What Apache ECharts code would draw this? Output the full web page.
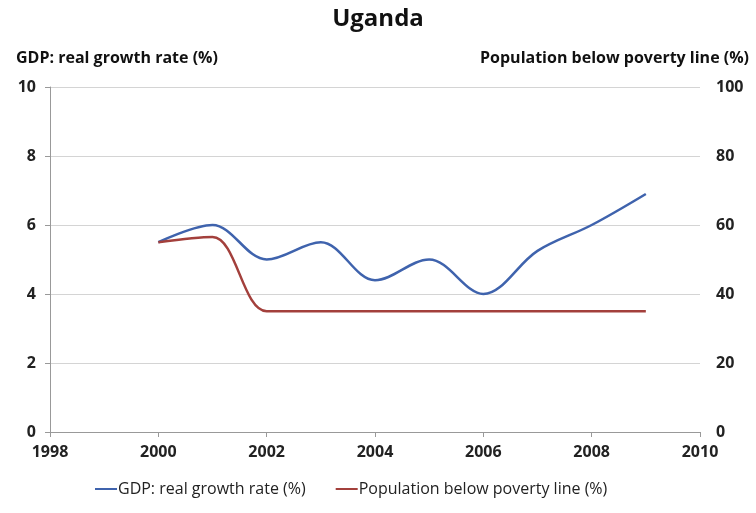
<!DOCTYPE html>
<html>
<head>
<meta charset="utf-8">
<script src="https://cdn.jsdelivr.net/npm/echarts@6/dist/echarts.min.js"></script>
<style>
  html, body { margin: 0; padding: 0; background: #fff; }
  #chart { width: 756px; height: 513px; }
</style>
</head>
<body>
<div id="chart"></div>
<script>
// Uganda: GDP growth vs. share of population below the poverty line
const years = [2000, 2001, 2002, 2003, 2004, 2005, 2006, 2007, 2008, 2009];
const gdpGrowth = [5.5, 6.0, 5.0, 5.5, 4.4, 5.0, 4.0, 5.25, 6.0, 6.9];
const povertyShare = [55, 56.5, 35, 35, 35, 35, 35, 35, 35, 35];

const gdpName = 'GDP: real growth rate (%)';
const povName = 'Population below poverty line (%)';
const font = '"Open Sans", "Liberation Sans", sans-serif';

const chart = echarts.init(document.getElementById('chart'));
chart.setOption({
  animation: false,
  textStyle: { fontFamily: font },
  title: [
    { text: 'Uganda', left: 'center', top: 2,
      textStyle: { fontFamily: font, fontSize: 24, fontWeight: 'bold', color: '#111' } },
    { text: gdpName, left: 11, top: 45,
      textStyle: { fontFamily: font, fontSize: 16, fontWeight: 'bold', color: '#111' } },
    { text: povName, right: 2, top: 45,
      textStyle: { fontFamily: font, fontSize: 16, fontWeight: 'bold', color: '#111' } }
  ],
  legend: {
    bottom: 11, left: 90, itemGap: 30,
    itemWidth: 22, itemHeight: 2,
    icon: 'rect',
    textStyle: { fontFamily: font, fontSize: 16, color: '#222', padding: [0, 0, 0, -4] },
    data: [gdpName, povName]
  },
  grid: { left: 50, right: 56, top: 87, bottom: 81 },
  xAxis: {
    type: 'value', min: 1998, max: 2010, interval: 2,
    axisLine: { show: true, lineStyle: { color: '#999' } },
    axisTick: { show: true, length: 5, lineStyle: { color: '#999' } },
    splitLine: { show: false },
    axisLabel: { margin: 12, fontSize: 16, fontWeight: 'bold', color: '#222', fontFamily: font,
      formatter: v => String(v) }
  },
  yAxis: [
    {
      type: 'value', min: 0, max: 10, interval: 2,
      axisLine: { show: true, lineStyle: { color: '#999' } },
      axisTick: { show: true, length: 5, lineStyle: { color: '#999' } },
      splitLine: { show: true, lineStyle: { color: '#d4d4d4' } },
      axisLabel: { margin: 14, fontSize: 16, fontWeight: 'bold', color: '#222', fontFamily: font }
    },
    {
      type: 'value', min: 0, max: 100, interval: 20,
      axisLine: { show: false },
      axisTick: { show: false },
      splitLine: { show: false },
      axisLabel: { margin: 16, fontSize: 16, fontWeight: 'bold', color: '#222', fontFamily: font }
    }
  ],
  series: [
    {
      name: gdpName, type: 'line', yAxisIndex: 0, smooth: 0.35,
      symbol: 'none',
      lineStyle: { color: '#3f63ad', width: 2.5 },
      itemStyle: { color: '#3f63ad' },
      data: years.map((y, i) => [y, gdpGrowth[i]])
    },
    {
      name: povName, type: 'line', yAxisIndex: 1, smooth: 0.35,
      symbol: 'none',
      lineStyle: { color: '#a3403c', width: 2.5 },
      itemStyle: { color: '#a3403c' },
      data: years.map((y, i) => [y, povertyShare[i]])
    }
  ]
});
</script>
</body>
</html>
